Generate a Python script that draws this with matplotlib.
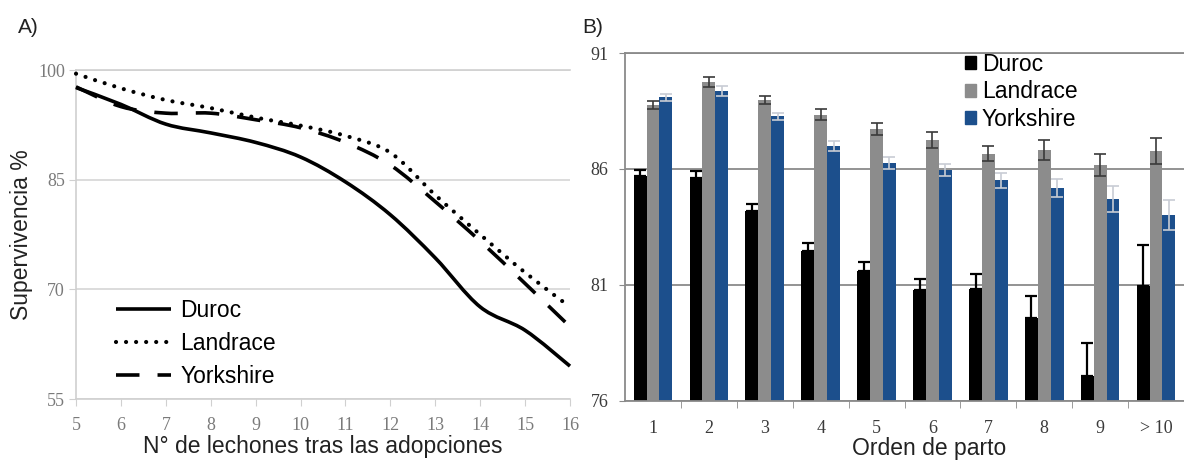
import matplotlib
matplotlib.use("Agg")
import matplotlib.pyplot as plt
import numpy as np
from matplotlib.lines import Line2D
from matplotlib.patches import PathPatch, Patch
from matplotlib.path import Path

# Panel A: survival (%) vs piglets after cross-fostering
litter_size = [5, 6, 7, 8, 9, 10, 11, 12, 13, 14, 15, 16]
duroc_surv = [97.6, 95.3, 92.6, 91.4, 90.1, 88.1, 84.7, 80.2, 74.3, 67.6, 64.4, 59.5]
landrace_surv = [99.5, 97.5, 95.9, 94.8, 93.5, 92.4, 91.0, 88.7, 82.9, 77.5, 72.3, 67.6]
yorkshire_surv = [97.7, 95.0, 94.1, 94.1, 93.2, 92.1, 90.1, 87.0, 82.0, 76.6, 70.8, 64.9]

# Panel B: survival by parity
parity = ["1", "2", "3", "4", "5", "6", "7", "8", "9", "> 10"]
duroc_par = [85.68, 85.6, 84.18, 82.44, 81.59, 80.76, 80.83, 79.58, 77.05, 80.96]
duroc_err = [0.29, 0.30, 0.31, 0.37, 0.39, 0.47, 0.65, 0.92, 1.43, 1.76]
landrace_par = [88.76, 89.76, 88.99, 88.34, 87.72, 87.25, 86.65, 86.82, 86.17, 86.76]
landrace_err = [0.19, 0.22, 0.17, 0.24, 0.27, 0.33, 0.33, 0.43, 0.47, 0.57]
yorkshire_par = [89.09, 89.35, 88.26, 87.0, 86.24, 85.96, 85.5, 85.18, 84.68, 84.02]
yorkshire_err = [0.14, 0.21, 0.16, 0.22, 0.25, 0.26, 0.31, 0.39, 0.56, 0.64]

SANS = "Liberation Sans"
SERIF = "Liberation Serif"
BLUE = "#1c4f8c"
GREY_BAR = "#8c8c8c"


def smooth_path(xs, ys):
    # Catmull-Rom through the points, drawn as cubic Bezier segments
    pts = np.column_stack([xs, ys]).astype(float)
    n = len(pts)
    verts = [pts[0]]
    codes = [Path.MOVETO]
    for i in range(n - 1):
        p0 = pts[max(i - 1, 0)]
        p1 = pts[i]
        p2 = pts[i + 1]
        p3 = pts[min(i + 2, n - 1)]
        verts += [p1 + (p2 - p0) / 6, p2 - (p3 - p1) / 6, p2]
        codes += [Path.CURVE4] * 3
    return Path(verts, codes)


fig = plt.figure(figsize=(11.84, 4.65), dpi=100)

# ---------------- Panel A ----------------
ax = fig.add_axes([0.0642, 0.1419, 0.4172, 0.7075])
styles = [
    (duroc_surv, "Duroc", dict(linestyle="-"), "butt", 2.6),
    (landrace_surv, "Landrace", dict(linestyle=(0, (0.01, 2.4))), "round", 3.0),
    (yorkshire_surv, "Yorkshire", dict(linestyle=(0, (6.5, 5))), "butt", 2.6),
]
handles = []
for vals, name, ls, cap, lw in styles:
    patch = PathPatch(smooth_path(litter_size, vals), facecolor="none",
                      edgecolor="black", lw=lw, capstyle=cap, clip_on=False, zorder=3, **ls)
    ax.add_patch(patch)
    handles.append(Line2D([], [], color="black", lw=lw, dash_capstyle=cap,
                          solid_capstyle="butt", **ls))

ax.set_xlim(5, 16)
ax.set_ylim(55, 100)
ax.set_xticks(litter_size)
ax.set_yticks([55, 70, 85, 100])
ax.grid(axis="y", color="#d9d9d9", lw=1.3)
ax.set_axisbelow(True)
for side in ["left", "bottom", "top"]:
    ax.spines[side].set_color("#d0d0d0")
    ax.spines[side].set_linewidth(1.2)
ax.spines["right"].set_visible(False)
ax.tick_params(axis="both", length=5, color="#d0d0d0", labelcolor="#7a7a7a",
               labelsize=13)
ax.tick_params(axis="x", pad=8)
ax.tick_params(axis="y", pad=3)
for lab in ax.get_xticklabels() + ax.get_yticklabels():
    lab.set_family(SERIF)
ax.set_xlabel("N° de lechones tras las adopciones", family=SANS, fontsize=16.5, color="#222222")
ax.set_ylabel("Supervivencia %", family=SANS, fontsize=16.5, color="#222222")
ax.xaxis.set_label_coords(0.5, -0.11)
ax.yaxis.set_label_coords(-0.088, 0.5)
ax.legend(handles, ["Duroc", "Landrace", "Yorkshire"], loc="lower left",
          bbox_to_anchor=(0.04, -0.03), frameon=False, handlelength=2.4,
          handletextpad=0.4, labelspacing=0.45,
          prop={"family": SANS, "size": 16.5})
fig.text(0.015, 0.94, "A)", family=SANS, fontsize=15, color="#222222", va="center")

# ---------------- Panel B ----------------
bx = fig.add_axes([0.5279, 0.1387, 0.4721, 0.7473])
x = np.arange(len(parity))
w = 0.23
bx.bar(x - w, duroc_par, w, color="black", zorder=2)
bx.bar(x, landrace_par, w, color=GREY_BAR, zorder=2)
bx.bar(x + w, yorkshire_par, w, color=BLUE, zorder=2)
# Duroc bars only show the upper half of the error bar
bx.errorbar(x - w, duroc_par, yerr=[np.zeros(len(duroc_err)), duroc_err], fmt="none",
            ecolor="black", elinewidth=1.6, capsize=4.5, capthick=1.6, zorder=3)
bx.errorbar(x, landrace_par, yerr=landrace_err, fmt="none", ecolor="#3a3a3a",
            elinewidth=1.2, capsize=4, capthick=1.2, zorder=3)
bx.errorbar(x + w, yorkshire_par, yerr=yorkshire_err, fmt="none", ecolor="#c8ccd4",
            elinewidth=1.2, capsize=4, capthick=1.2, zorder=3)

bx.set_xlim(-0.5, 9.38)
bx.set_ylim(76, 91)
bx.set_yticks([76, 81, 86, 91])
bx.set_xticks(x)
bx.set_xticklabels(parity)
bx.set_xticks(np.arange(len(parity)) + 0.5, minor=True)
bx.grid(axis="y", color="#8a8a8a", lw=1.3, zorder=0)
for side in ["left", "bottom", "top"]:
    bx.spines[side].set_color("#8a8a8a")
    bx.spines[side].set_linewidth(1.3)
bx.spines["right"].set_visible(False)
bx.tick_params(axis="x", which="major", length=0, pad=14, labelsize=13,
               labelcolor="#3a3a3a")
bx.tick_params(axis="x", which="minor", length=5, color="#8a8a8a")
bx.tick_params(axis="y", length=4, color="#8a8a8a", pad=8, labelsize=13,
               labelcolor="#3a3a3a")
for lab in bx.get_xticklabels() + bx.get_yticklabels():
    lab.set_family(SERIF)
bx.set_xlabel("Orden de parto", family=SANS, fontsize=16.5, color="#222222")
bx.xaxis.set_label_coords(0.544, -0.105)
leg_handles = [Patch(color="black"), Patch(color=GREY_BAR), Patch(color=BLUE)]
bx.legend(leg_handles, ["Duroc", "Landrace", "Yorkshire"], loc="upper left",
          bbox_to_anchor=(0.571, 1.06), frameon=False, handlelength=0.5,
          handleheight=0.5, handletextpad=0.25, labelspacing=0.2,
          prop={"family": SANS, "size": 16.5})
fig.text(0.492, 0.94, "B)", family=SANS, fontsize=15, color="#222222", va="center")

fig.savefig("out.png", dpi=100)
